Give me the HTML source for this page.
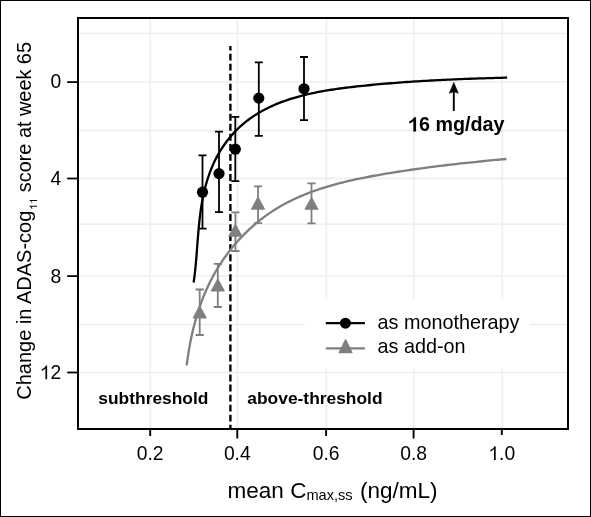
<!DOCTYPE html><html><head><meta charset="utf-8"><style>html,body{margin:0;padding:0;background:#fff}svg{display:block;will-change:transform}text{font-family:"Liberation Sans",sans-serif}</style></head><body>
<svg width="591" height="517" viewBox="0 0 591 517">
<rect x="0" y="0" width="591" height="517" fill="#fff"/>
<rect x="0.5" y="0.5" width="590" height="516" fill="none" stroke="#000" stroke-width="1"/>
<line x1="79" y1="33.5" x2="567" y2="33.5" stroke="#eeeeee" stroke-width="1.6"/>
<line x1="79" y1="82.0" x2="567" y2="82.0" stroke="#eeeeee" stroke-width="1.6"/>
<line x1="79" y1="130.6" x2="567" y2="130.6" stroke="#eeeeee" stroke-width="1.6"/>
<line x1="79" y1="178.4" x2="567" y2="178.4" stroke="#eeeeee" stroke-width="1.6"/>
<line x1="79" y1="224.3" x2="567" y2="224.3" stroke="#eeeeee" stroke-width="1.6"/>
<line x1="79" y1="276.0" x2="567" y2="276.0" stroke="#eeeeee" stroke-width="1.6"/>
<line x1="79" y1="324.5" x2="567" y2="324.5" stroke="#eeeeee" stroke-width="1.6"/>
<line x1="79" y1="372.5" x2="567" y2="372.5" stroke="#eeeeee" stroke-width="1.6"/>
<line x1="150.3" y1="19" x2="150.3" y2="428" stroke="#eeeeee" stroke-width="1.6"/>
<line x1="237.4" y1="19" x2="237.4" y2="428" stroke="#eeeeee" stroke-width="1.6"/>
<line x1="326.4" y1="19" x2="326.4" y2="428" stroke="#eeeeee" stroke-width="1.6"/>
<line x1="413.9" y1="19" x2="413.9" y2="428" stroke="#eeeeee" stroke-width="1.6"/>
<line x1="502.3" y1="19" x2="502.3" y2="428" stroke="#eeeeee" stroke-width="1.6"/>
<line x1="230.4" y1="46" x2="230.4" y2="428" stroke="#000" stroke-width="2.4" stroke-dasharray="6.9 3.13" stroke-dashoffset="2.4"/>
<rect x="305" y="299" width="225" height="69" fill="#fff"/>
<path d="M186.71,365.34 L187.03,362.74 L187.38,360.14 L187.75,357.52 L188.14,354.91 L188.55,352.29 L188.98,349.67 L189.44,347.05 L189.92,344.43 L190.42,341.80 L190.95,339.18 L191.50,336.56 L192.07,333.94 L192.67,331.33 L193.30,328.72 L193.95,326.11 L194.63,323.51 L195.33,320.91 L196.06,318.32 L196.82,315.74 L197.61,313.17 L198.43,310.60 L199.28,308.05 L200.15,305.51 L201.06,302.97 L202.00,300.45 L202.96,297.94 L203.96,295.45 L204.99,292.97 L206.06,290.50 L207.15,288.05 L208.28,285.62 L209.44,283.21 L210.64,280.81 L211.87,278.43 L213.13,276.07 L214.43,273.73 L215.76,271.41 L217.12,269.11 L218.52,266.83 L219.94,264.57 L221.40,262.33 L222.88,260.12 L224.40,257.93 L225.95,255.76 L227.53,253.62 L229.14,251.50 L230.78,249.40 L232.44,247.33 L234.14,245.28 L235.86,243.26 L237.62,241.27 L239.40,239.30 L241.20,237.37 L243.04,235.45 L244.90,233.57 L246.79,231.72 L248.70,229.89 L250.64,228.10 L252.61,226.33 L254.60,224.60 L256.62,222.90 L258.66,221.23 L260.72,219.59 L262.81,217.98 L264.92,216.41 L267.06,214.87 L269.22,213.36 L271.40,211.89 L273.60,210.45 L275.82,209.05 L278.07,207.68 L280.34,206.35 L282.63,205.05 L284.94,203.79 L287.26,202.56 L289.61,201.36 L291.98,200.19 L294.36,199.06 L296.76,197.95 L299.18,196.88 L301.61,195.83 L304.06,194.81 L306.52,193.82 L309.00,192.86 L311.49,191.92 L314.00,191.01 L316.52,190.13 L319.05,189.27 L321.59,188.43 L324.15,187.62 L326.71,186.83 L329.29,186.06 L331.87,185.31 L334.47,184.58 L337.07,183.88 L339.68,183.19 L342.30,182.52 L344.92,181.87 L347.56,181.24 L350.19,180.63 L352.84,180.03 L355.48,179.45 L358.14,178.88 L360.79,178.33 L363.45,177.79 L366.11,177.26 L368.78,176.75 L371.44,176.25 L374.11,175.75 L376.78,175.27 L379.44,174.80 L382.11,174.34 L384.78,173.89 L387.44,173.45 L390.10,173.01 L392.76,172.58 L395.42,172.16 L398.07,171.74 L400.72,171.33 L403.37,170.93 L406.02,170.53 L408.66,170.14 L411.31,169.76 L413.95,169.38 L416.59,169.00 L419.23,168.64 L421.86,168.27 L424.50,167.92 L427.13,167.57 L429.77,167.22 L432.40,166.88 L435.03,166.54 L437.67,166.21 L440.30,165.89 L442.93,165.57 L445.56,165.25 L448.19,164.94 L450.83,164.63 L453.46,164.33 L456.09,164.03 L458.73,163.73 L461.36,163.44 L464.00,163.15 L466.63,162.87 L469.27,162.59 L471.91,162.32 L474.55,162.04 L477.19,161.77 L479.84,161.51 L482.48,161.24 L485.13,160.98 L487.78,160.73 L490.43,160.47 L493.09,160.22 L495.74,159.97 L498.40,159.73 L501.07,159.48 L503.73,159.24 L506.40,159.00" fill="none" stroke="#7f7f7f" stroke-width="2.3"/>
<path d="M193.62,282.47 L194.00,279.85 L194.36,277.21 L194.69,274.56 L194.99,271.88 L195.28,269.20 L195.55,266.49 L195.81,263.78 L196.05,261.05 L196.29,258.30 L196.51,255.55 L196.73,252.79 L196.94,250.02 L197.15,247.24 L197.36,244.45 L197.58,241.65 L197.79,238.85 L198.02,236.05 L198.25,233.24 L198.49,230.43 L198.75,227.62 L199.02,224.80 L199.31,221.99 L199.62,219.18 L199.95,216.37 L200.30,213.56 L200.68,210.75 L201.08,207.96 L201.52,205.16 L201.99,202.37 L202.50,199.59 L203.04,196.82 L203.62,194.06 L204.24,191.31 L204.90,188.57 L205.61,185.84 L206.37,183.13 L207.17,180.43 L208.02,177.74 L208.93,175.08 L209.88,172.44 L210.88,169.82 L211.94,167.22 L213.05,164.65 L214.21,162.11 L215.43,159.60 L216.71,157.12 L218.04,154.68 L219.43,152.26 L220.88,149.89 L222.38,147.55 L223.93,145.26 L225.53,143.00 L227.18,140.79 L228.89,138.63 L230.64,136.51 L232.44,134.43 L234.29,132.41 L236.18,130.44 L238.12,128.52 L240.10,126.66 L242.12,124.85 L244.18,123.09 L246.28,121.40 L248.43,119.76 L250.61,118.17 L252.83,116.63 L255.08,115.15 L257.37,113.72 L259.69,112.33 L262.05,111.00 L264.44,109.71 L266.86,108.46 L269.30,107.27 L271.78,106.11 L274.28,105.00 L276.82,103.93 L279.37,102.91 L281.95,101.92 L284.56,100.97 L287.18,100.06 L289.83,99.19 L292.50,98.35 L295.18,97.54 L297.89,96.77 L300.61,96.03 L303.35,95.32 L306.10,94.65 L308.86,94.00 L311.64,93.38 L314.43,92.79 L317.24,92.22 L320.05,91.68 L322.86,91.16 L325.69,90.67 L328.52,90.19 L331.36,89.74 L334.20,89.31 L337.05,88.89 L339.90,88.50 L342.75,88.12 L345.60,87.75 L348.44,87.40 L351.29,87.07 L354.13,86.74 L356.97,86.43 L359.80,86.12 L362.63,85.83 L365.45,85.54 L368.26,85.26 L371.07,84.99 L373.86,84.72 L376.65,84.46 L379.43,84.21 L382.21,83.96 L384.97,83.72 L387.74,83.49 L390.50,83.26 L393.25,83.04 L396.00,82.82 L398.74,82.61 L401.48,82.40 L404.22,82.20 L406.96,82.01 L409.69,81.82 L412.42,81.63 L415.15,81.45 L417.88,81.28 L420.61,81.11 L423.34,80.94 L426.07,80.78 L428.80,80.63 L431.53,80.48 L434.26,80.33 L436.99,80.18 L439.73,80.05 L442.46,79.91 L445.21,79.78 L447.95,79.65 L450.70,79.53 L453.45,79.41 L456.21,79.29 L458.97,79.18 L461.74,79.06 L464.52,78.96 L467.30,78.85 L470.09,78.75 L472.88,78.65 L475.69,78.56 L478.50,78.46 L481.32,78.37 L484.15,78.28 L486.98,78.19 L489.83,78.11 L492.69,78.03 L495.56,77.95 L498.44,77.87 L501.33,77.79 L504.23,77.71 L507.15,77.64" fill="none" stroke="#000" stroke-width="2.3"/>
<path d="M199.7,289.5 V335.0 M195.60,289.5 H203.80 M195.60,335.0 H203.80" stroke="#7f7f7f" stroke-width="1.8" fill="none"/>
<path d="M199.7,306.20 L206.00,317.90 L193.40,317.90 Z" fill="#7f7f7f" stroke="#7f7f7f" stroke-width="1.3" stroke-linejoin="round"/>
<path d="M217.8,263.8 V307.0 M213.70,263.8 H221.90 M213.70,307.0 H221.90" stroke="#7f7f7f" stroke-width="1.8" fill="none"/>
<path d="M217.8,279.40 L224.10,290.90 L211.50,290.90 Z" fill="#7f7f7f" stroke="#7f7f7f" stroke-width="1.3" stroke-linejoin="round"/>
<path d="M235.4,212.4 V251.0 M231.30,212.4 H239.50 M231.30,251.0 H239.50" stroke="#7f7f7f" stroke-width="1.8" fill="none"/>
<path d="M235.4,224.90 L241.70,236.00 L229.10,236.00 Z" fill="#7f7f7f" stroke="#7f7f7f" stroke-width="1.3" stroke-linejoin="round"/>
<path d="M258.0,186.4 V223.2 M253.90,186.4 H262.10 M253.90,223.2 H262.10" stroke="#7f7f7f" stroke-width="1.8" fill="none"/>
<path d="M258.0,197.40 L264.30,209.00 L251.70,209.00 Z" fill="#7f7f7f" stroke="#7f7f7f" stroke-width="1.3" stroke-linejoin="round"/>
<path d="M311.5,183.4 V223.4 M307.40,183.4 H315.60 M307.40,223.4 H315.60" stroke="#7f7f7f" stroke-width="1.8" fill="none"/>
<path d="M311.5,197.90 L317.80,209.20 L305.20,209.20 Z" fill="#7f7f7f" stroke="#7f7f7f" stroke-width="1.3" stroke-linejoin="round"/>
<path d="M202.5,155.4 V228.6 M198.50,155.4 H206.50 M198.50,228.6 H206.50" stroke="#000" stroke-width="1.8" fill="none"/>
<circle cx="202.5" cy="192.2" r="5.6" fill="#000"/>
<path d="M219.0,131.6 V212.2 M215.00,131.6 H223.00 M215.00,212.2 H223.00" stroke="#000" stroke-width="1.8" fill="none"/>
<circle cx="219.0" cy="173.6" r="5.6" fill="#000"/>
<path d="M235.3,116.9 V181.1 M231.30,116.9 H239.30 M231.30,181.1 H239.30" stroke="#000" stroke-width="1.8" fill="none"/>
<circle cx="235.3" cy="149.2" r="5.6" fill="#000"/>
<path d="M258.8,62.3 V135.8 M254.80,62.3 H262.80 M254.80,135.8 H262.80" stroke="#000" stroke-width="1.8" fill="none"/>
<circle cx="258.8" cy="98.1" r="5.6" fill="#000"/>
<path d="M304.0,57.0 V120.2 M300.00,57.0 H308.00 M300.00,120.2 H308.00" stroke="#000" stroke-width="1.8" fill="none"/>
<circle cx="304.0" cy="88.8" r="5.6" fill="#000"/>
<path d="M453.8,111 V89" stroke="#000" stroke-width="1.9" fill="none"/>
<path d="M453.8,82.4 L458.3,93.3 L453.8,91.6 L449.3,93.3 Z" fill="#000" stroke="#000" stroke-width="0.6" stroke-linejoin="round"/>
<rect x="78" y="18" width="490" height="411" fill="none" stroke="#000" stroke-width="2"/>
<line x1="67.2" y1="82.1" x2="77" y2="82.1" stroke="#000" stroke-width="1.8"/>
<text x="61.3" y="87.90" font-size="19.3" text-anchor="end">0</text>
<line x1="67.2" y1="178.5" x2="77" y2="178.5" stroke="#000" stroke-width="1.8"/>
<text x="61.3" y="184.70" font-size="19.3" text-anchor="end">4</text>
<line x1="67.2" y1="276.1" x2="77" y2="276.1" stroke="#000" stroke-width="1.8"/>
<text x="61.3" y="282.70" font-size="19.3" text-anchor="end">8</text>
<line x1="67.2" y1="372.5" x2="77" y2="372.5" stroke="#000" stroke-width="1.8"/>
<path d="M45.44,379.30 L47.13,379.30 L47.13,365.48 L46.05,365.48 L45.24,366.75 L43.70,368.20 L41.86,369.26 L41.86,370.90 L43.51,370.04 L45.44,368.40 Z" fill="#000"/>
<text x="61.3" y="379.30" font-size="19.3" text-anchor="end">2</text>
<line x1="150.2" y1="430" x2="150.2" y2="436" stroke="#000" stroke-width="1.9"/>
<text x="150.2" y="460" font-size="19.3" text-anchor="middle">0.2</text>
<line x1="237.3" y1="430" x2="237.3" y2="438.5" stroke="#000" stroke-width="1.9"/>
<text x="237.3" y="460" font-size="19.3" text-anchor="middle">0.4</text>
<line x1="326.1" y1="430" x2="326.1" y2="436" stroke="#000" stroke-width="1.9"/>
<text x="326.1" y="460" font-size="19.3" text-anchor="middle">0.6</text>
<line x1="413.6" y1="430" x2="413.6" y2="438.5" stroke="#000" stroke-width="1.9"/>
<text x="413.6" y="460" font-size="19.3" text-anchor="middle">0.8</text>
<line x1="501.8" y1="430" x2="501.8" y2="435" stroke="#000" stroke-width="1.9"/>
<path d="M493.98,460.00 L495.68,460.00 L495.68,446.18 L494.60,446.18 L493.79,447.45 L492.25,448.90 L490.41,449.96 L490.41,451.60 L492.05,450.74 L493.98,449.10 Z" fill="#000"/>
<text x="499.12" y="460" font-size="19.3">.0</text>
<line x1="325.8" y1="323.2" x2="364.9" y2="323.2" stroke="#000" stroke-width="2.3"/>
<circle cx="345.4" cy="323.2" r="5.5" fill="#000"/>
<line x1="325.8" y1="348.3" x2="364.9" y2="348.3" stroke="#7f7f7f" stroke-width="2.3"/>
<path d="M345.6,339.8 L351.9,352.6 L339.3,352.6 Z" fill="#7f7f7f" stroke="#7f7f7f" stroke-width="1.3" stroke-linejoin="round"/>
<text x="377.6" y="329.0" font-size="19.8">as monotherapy</text>
<text x="377.6" y="353.2" font-size="19.8">as add-on</text>
<text x="98.3" y="403.8" font-size="17.4" font-weight="bold">subthreshold</text>
<text x="247.3" y="403.7" font-size="17.4" font-weight="bold">above-threshold</text>
<path d="M413.32,131.40 L416.08,131.40 L416.08,117.29 L414.01,117.29 L413.12,118.79 L411.45,120.17 L409.28,121.16 L409.28,123.62 L411.25,122.73 L413.32,121.35 Z" fill="#000"/>
<text x="419.05" y="131.4" font-size="19.7" font-weight="bold">6 mg/day</text>
<text x="227.6" y="497.9" font-size="22.5"><tspan>mean C</tspan><tspan font-size="14.6" dy="2.4">max,ss</tspan><tspan dy="-2.4" dx="1.1"> (ng/mL)</tspan></text>
<g transform="translate(30.6,399.7) rotate(-90)">
<text x="0" y="0" font-size="20">Change in ADAS-cog</text>
<path d="M192.94,6.50 L193.87,6.50 L193.87,-1.02 L193.28,-1.02 L192.84,-0.33 L192.00,0.46 L191.00,1.04 L191.00,1.93 L191.90,1.46 L192.94,0.57 Z M198.78,6.50 L199.71,6.50 L199.71,-1.02 L199.12,-1.02 L198.68,-0.33 L197.84,0.46 L196.84,1.04 L196.84,1.93 L197.73,1.46 L198.78,0.57 Z" fill="#000"/>
<text x="207.54" y="0" font-size="19.87">score at week 65</text>
</g>
</svg></body></html>
